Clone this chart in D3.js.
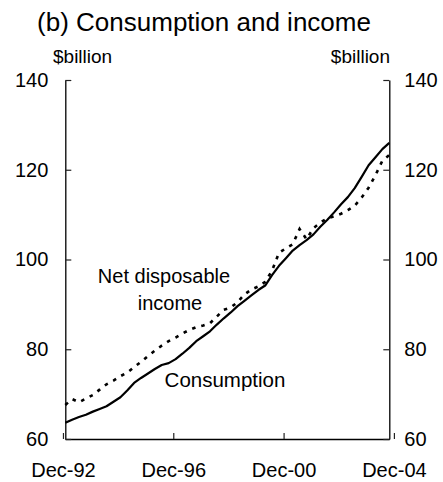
<!DOCTYPE html>
<html>
<head>
<meta charset="utf-8">
<script src="https://cdn.jsdelivr.net/npm/d3@7"></script>
<style>
  html, body { margin: 0; padding: 0; background: #fff; }
  svg { display: block; font-family: Arial, "Liberation Sans", Helvetica, sans-serif; }
</style>
</head>
<body>
<svg id="chart" width="443" height="482"></svg>
<script>
// ---- Data (quarterly, Dec-1992 to Dec-2004, $billion) ----
const startQuarter = "1992-12";
const endQuarter = "2004-12";
const consumption = [
  63.6, 64.3, 64.9, 65.4, 66.1, 66.7, 67.3, 68.3, 69.3, 70.8,
  72.5, 73.6, 74.6, 75.6, 76.5, 76.9, 77.8, 79.0, 80.3, 81.8,
  82.9, 84.0, 85.5, 86.9, 88.2, 89.6, 90.8, 92.0, 93.2, 94.2,
  96.5, 98.6, 100.3, 102.0, 103.2, 104.3, 105.6, 107.3, 108.8, 110.5,
  112.3, 113.9, 115.9, 118.4, 121.0, 122.8, 124.6, 126.0, 127.0
];
const income = [
  67.6, 68.9, 68.2, 69.0, 69.8, 71.0, 72.2, 73.0, 74.0, 74.8,
  76.0, 77.2, 78.5, 79.7, 80.8, 81.8, 82.6, 83.5, 84.3, 84.9,
  85.3, 85.8, 87.3, 88.8, 89.3, 90.5, 92.2, 93.3, 94.0, 95.0,
  97.5, 101.5, 102.5, 103.4, 106.8, 104.5, 107.0, 108.2, 109.2, 109.6,
  110.2, 111.0, 112.0, 113.8, 116.0, 118.8, 122.0, 123.3, 124.2
];
const yTicks = [60, 80, 100, 120, 140];
const xTickLabels = ["Dec-92", "Dec-96", "Dec-00", "Dec-04"];
const title = "(b) Consumption and income";
const unitLabel = "$billion";
const seriesLabels = { income: ["Net disposable", "income"], consumption: "Consumption" };

// ---- Build ----
const parseQ = d3.timeParse("%Y-%m");
const quarters = d3.timeMonth.every(3).range(parseQ(startQuarter), d3.timeMonth.offset(parseQ(endQuarter), 1));
const parseLab = d3.timeParse("%b-%y");
const xTickDates = xTickLabels.map(parseLab);

const svg = d3.select("#chart");
const m = { left: 65.3, right: 389.3, top: 80, bottom: 439 };

const x = d3.scaleTime().domain([quarters[0], quarters[quarters.length - 1]]).range([m.left, m.right]);
const y = d3.scaleLinear().domain([60, 140]).range([m.bottom, m.top]);

// Title
svg.append("text").attr("x", 204).attr("y", 31).attr("text-anchor", "middle")
  .attr("font-size", 26).attr("fill", "#000").text(title);

// Unit labels
svg.append("text").attr("x", 53).attr("y", 63).attr("font-size", 19).text(unitLabel);
svg.append("text").attr("x", 390).attr("y", 63).attr("text-anchor", "end").attr("font-size", 19).text(unitLabel);

// Axes
const fmtX = d3.timeFormat("%b-%y");
const bottomAxis = d3.axisBottom(x).tickValues(xTickDates).tickSizeInner(-6).tickSizeOuter(0)
  .tickPadding(24).tickFormat(fmtX);
const leftAxis = d3.axisLeft(y).tickValues(yTicks).tickSizeInner(-6).tickSizeOuter(0).tickPadding(17);
const rightAxis = d3.axisRight(y).tickValues(yTicks).tickSizeInner(-6).tickSizeOuter(0).tickPadding(15);

function styleAxis(g) {
  g.select(".domain").attr("stroke", "#000").attr("stroke-width", 1.3);
  g.selectAll(".tick line").attr("stroke", "#222").attr("stroke-width", 1.2);
  g.selectAll(".tick text").attr("font-size", 20).attr("fill", "#000")
    .attr("font-family", "Arial, 'Liberation Sans', sans-serif");
}
svg.append("g").attr("transform", `translate(0,${m.bottom})`).call(bottomAxis).call(styleAxis);
svg.append("g").attr("transform", `translate(${m.left},0)`).call(leftAxis).call(styleAxis);
svg.append("g").attr("transform", `translate(${m.right},0)`).call(rightAxis).call(styleAxis);

// Lines
const line = d3.line().x((d, i) => x(quarters[i])).y(d => y(d));
svg.append("path").datum(income).attr("d", line).attr("fill", "none")
  .attr("stroke", "#000").attr("stroke-width", 2.6).attr("stroke-dasharray", "3.5,6");
svg.append("path").datum(consumption).attr("d", line).attr("fill", "none")
  .attr("stroke", "#000").attr("stroke-width", 2.2).attr("stroke-linejoin", "round");

// Series labels
svg.append("text").attr("x", 164).attr("y", 283).attr("text-anchor", "middle").attr("font-size", 20)
  .text(seriesLabels.income[0]);
svg.append("text").attr("x", 170).attr("y", 310).attr("text-anchor", "middle").attr("font-size", 20)
  .text(seriesLabels.income[1]);
svg.append("text").attr("x", 225).attr("y", 387).attr("text-anchor", "middle").attr("font-size", 20.5)
  .text(seriesLabels.consumption);
</script>
</body>
</html>
